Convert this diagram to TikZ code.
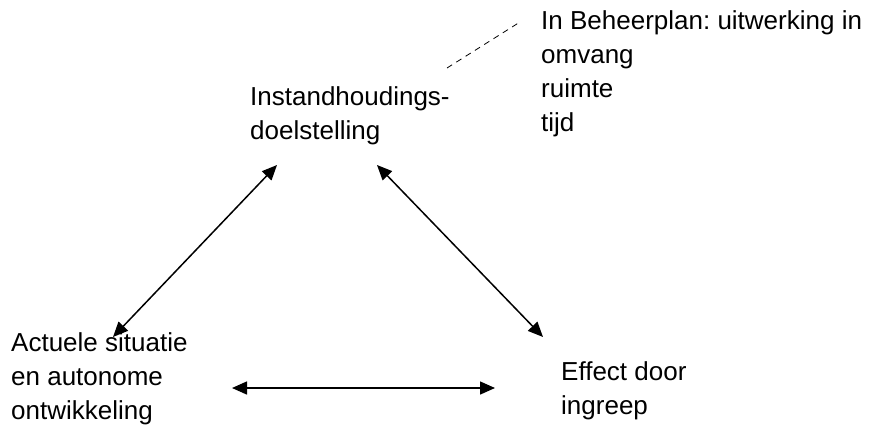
\documentclass[tikz,border=0pt]{standalone}
\usepackage{fontspec}
\setmainfont{Liberation Sans}
\usetikzlibrary{arrows.meta}
\frenchspacing
\begin{document}
\begin{tikzpicture}[x=1pt,y=-1pt,
  label/.style={anchor=base west, align=left, inner sep=0pt,
    font=\fontsize{26}{34}\selectfont},
  link/.style={line width=1.5pt, {Triangle[length=15pt,width=13pt]}-{Triangle[length=15pt,width=13pt]}},
  note/.style={line width=0.8pt, dash pattern=on 6pt off 5pt}]
\useasboundingbox (0,0) rectangle (869,424);

% text blocks, placed at the baseline of their last line
\node[label] (goal) at (250,139) {Instandhoudings-\\doelstelling};
\node[label] (plan) at (541,131) {In Beheerplan: uitwerking in\\omvang\\ruimte\\tijd};
\node[label] (actual) at (11,419) {Actuele situatie\\en autonome\\ontwikkeling};
\node[label] (effect) at (561,414) {Effect door\\ingreep};

% arrow ends
\coordinate (gl) at (277,165);
\coordinate (gr) at (377,165);
\coordinate (al) at (113,337);
\coordinate (ah) at (232,388);
\coordinate (eh) at (495,388);
\coordinate (et) at (543,337);
\coordinate (ga) at (447,68);
\coordinate (pa) at (520,22);

\draw[link] (gl) -- (al);
\draw[link] (gr) -- (et);
\draw[link] (ah) -- (eh);
\draw[note] (ga) -- (pa);
\end{tikzpicture}
\end{document}
